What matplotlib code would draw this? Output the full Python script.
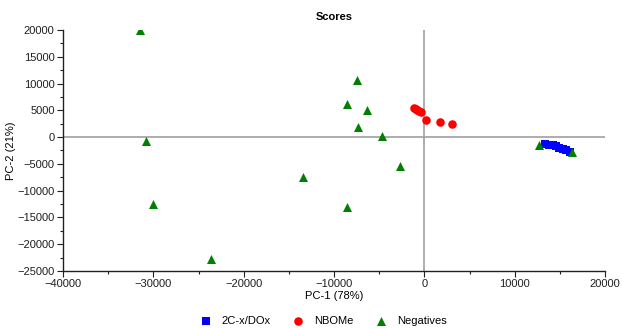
import matplotlib.pyplot as plt
from matplotlib.ticker import MultipleLocator

plt.rcParams['font.family'] = ['Liberation Sans', 'DejaVu Sans']

# PCA scores per group
dox_x = [13360, 13800, 14250, 14600, 14900, 15300, 15700, 16100]
dox_y = [-1290, -1400, -1500, -1750, -2000, -2200, -2500, -2750]

nbome_x = [-1140, -950, -775, -600, -400, 155, 1705, 3066]
nbome_y = [5390, 5200, 5017, 4850, 4640, 3257, 2883, 2396]

neg_x = [-31440, -30850, -30000, -23600, -13400, -8560, -7490, -8530,
         -6350, -7380, -4650, -2690, 12700, 16380]
neg_y = [20000, -670, -12470, -22690, -7470, -13000, 10630, 6140,
         5015, 1890, 200, -5470, -1480, -2850]

fig = plt.figure(figsize=(6.22, 3.28), dpi=100)
ax = fig.add_axes([63 / 622, 1 - 271 / 328, 542 / 622, 241 / 328])

ax.axhline(0, color='#a0a0a0', lw=1.2, zorder=1)
ax.axvline(0, color='#a0a0a0', lw=1.2, zorder=1)

ax.scatter(dox_x, dox_y, marker='s', s=30, color='#0000ff', lw=0, zorder=3, label='2C-x/DOx')
ax.scatter(nbome_x, nbome_y, marker='o', s=38, color='#ff0000', lw=0, zorder=3, label='NBOMe')
ax.scatter(neg_x, neg_y, marker='^', s=42, color='#008000', lw=0, zorder=3, label='Negatives')

ax.set_xlim(-40000, 20000)
ax.set_ylim(-25000, 20000)
ax.xaxis.set_major_locator(MultipleLocator(10000))
ax.xaxis.set_minor_locator(MultipleLocator(5000))
ax.yaxis.set_major_locator(MultipleLocator(5000))
ax.yaxis.set_minor_locator(MultipleLocator(2500))

for side in ('top', 'right'):
    ax.spines[side].set_visible(False)
for side in ('left', 'bottom'):
    ax.spines[side].set_color('#202020')
    ax.spines[side].set_linewidth(1.0)

ax.tick_params(which='major', length=4, width=0.8, labelsize=8, colors='#202020', pad=2)
ax.tick_params(which='minor', length=2.5, width=0.8, colors='#202020')

ax.set_xlabel('PC-1 (78%)', fontsize=8, labelpad=1)
ax.set_ylabel('PC-2 (21%)', fontsize=8, labelpad=1)
ax.set_title('Scores', fontsize=8, fontweight='bold', pad=7)

fig.legend(loc='center', bbox_to_anchor=(0.52, 1 - 321 / 328), ncol=3, frameon=False,
           fontsize=8, handlelength=1.0, handletextpad=0.9, columnspacing=2.0,
           scatterpoints=1)

fig.savefig('out.png', dpi=100)
